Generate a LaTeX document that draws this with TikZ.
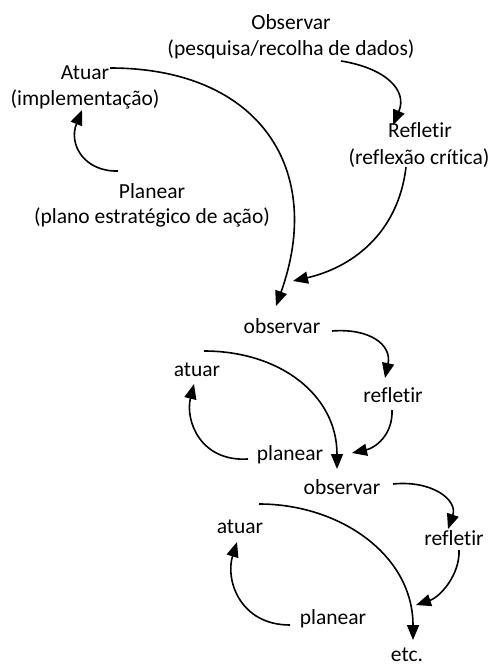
\documentclass[tikz,border=0pt]{standalone}
\usepackage{fontspec}
\setmainfont[Ligatures=NoCommon]{Carlito}
\usetikzlibrary{calc,arrows.meta}

\tikzset{
  lbl/.style={anchor=base, inner sep=0pt, font=\fontsize{21.5}{26}\selectfont},
  cyc/.style={line width=1.6pt, -{Triangle[length=15pt,width=12pt]}},
}

\begin{document}
\begin{tikzpicture}[x=1pt, y=-1pt]
\useasboundingbox (0,0) rectangle (493,666);

% first cycle, with descriptions
\node[lbl] (obsA)  at (291,30)  {Observar};
\node[lbl] (obsAs) at (291,56)  {(pesquisa/recolha de dados)};
\node[lbl] (atuA)  at (85,80)   {Atuar};
\node[lbl] (atuAs) at (85,106)  {(implementação)};
\node[lbl] (refA)  at (420,138) {Refletir};
\node[lbl] (refAs) at (419,164) {(reflexão crítica)};
\node[lbl] (plaA)  at (152,198) {Planear};
\node[lbl] (plaAs) at (152,223) {(plano estratégico de ação)};

% second cycle
\node[lbl] (obsB) at (282,333) {observar};
\node[lbl] (atuB) at (197,376) {atuar};
\node[lbl] (refB) at (393,402) {refletir};
\node[lbl] (plaB) at (290,460) {planear};

% third cycle
\node[lbl] (obsC) at (342,494) {observar};
\node[lbl] (atuC) at (240,533) {atuar};
\node[lbl] (refC) at (454,545) {refletir};
\node[lbl] (plaC) at (333,624) {planear};
\node[lbl] (etc)  at (407,661) {etc.};

% connectors of the first cycle
\draw[cyc] ($(obsAs.base)+(50,5)$) .. controls +(44,7) and +(15,-35) .. ($(refA.base)+(-27,-13)$);
\draw[cyc] ($(refAs.base)+(-13,3)$) .. controls +(-8,68) and +(57,-13) .. ($(obsB.base)+(11,-52)$);
\draw[cyc] ($(atuA.base)+(25,-12)$) .. controls +(150,0) and +(49,-136) .. ($(obsB.base)+(-6,-27)$);
\draw[cyc] ($(plaA.base)+(-34,-27)$) .. controls +(-33,1) and +(-14,35) .. ($(atuAs.base)+(-3,4)$);

% connectors of the second cycle
\draw[cyc] ($(obsB.base)+(50,-2)$) .. controls +(38,-3) and +(7,-33) .. ($(refB.base)+(-8,-24)$);
\draw[cyc] ($(refB.base)+(-1,8)$) .. controls +(1,25) and +(23,-5) .. ($(obsC.base)+(10,-41)$);
\draw[cyc] ($(atuB.base)+(7,-25)$) .. controls +(76,0) and +(0,-74) .. ($(obsC.base)+(-5,-25)$);
\draw[cyc] ($(plaB.base)+(-42,-1)$) .. controls +(-48,3) and +(-9,36) .. ($(atuB.base)+(-3,8)$);

% connectors of the third cycle
\draw[cyc] ($(obsC.base)+(51,-10)$) .. controls +(39,-4) and +(10,-29) .. ($(refC.base)+(-6,-16)$);
\draw[cyc] ($(refC.base)+(5,5)$) .. controls +(1,25) and +(24,-8) .. ($(etc.base)+(9,-56)$);
\draw[cyc] ($(atuC.base)+(19,-29)$) .. controls +(81,0) and +(0,-85) .. ($(etc.base)+(6,-21)$);
\draw[cyc] ($(plaC.base)+(-43,1)$) .. controls +(-50,0) and +(-12,38) .. ($(atuC.base)+(-3,9)$);
\end{tikzpicture}
\end{document}
